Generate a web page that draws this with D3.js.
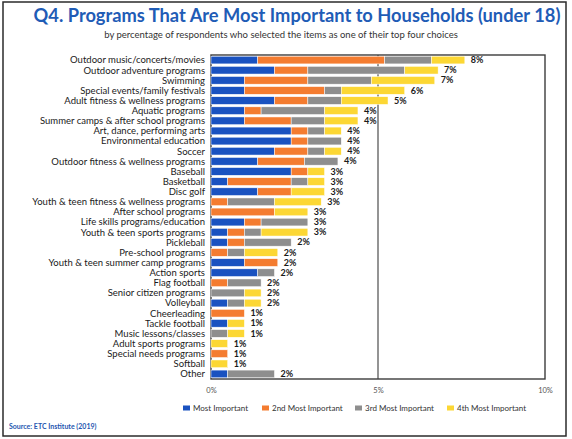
<!DOCTYPE html>
<html>
<head>
<meta charset="utf-8">
<script src="https://cdn.jsdelivr.net/npm/d3@7"></script>
<style>
  html, body { margin: 0; padding: 0; background: #fff; }
  svg { display: block; }
  text { font-family: Lato, "Open Sans", sans-serif; }
</style>
</head>
<body>
<svg id="chart" width="572" height="439"></svg>
<script>
// Programs ranked by share of households naming them in their top four
const categories = [
  "Outdoor music/concerts/movies",
  "Outdoor adventure programs",
  "Swimming",
  "Special events/family festivals",
  "Adult fitness & wellness programs",
  "Aquatic programs",
  "Summer camps & after school programs",
  "Art, dance, performing arts",
  "Environmental education",
  "Soccer",
  "Outdoor fitness & wellness programs",
  "Baseball",
  "Basketball",
  "Disc golf",
  "Youth & teen fitness & wellness programs",
  "After school programs",
  "Life skills programs/education",
  "Youth & teen sports programs",
  "Pickleball",
  "Pre-school programs",
  "Youth & teen summer camp programs",
  "Action sports",
  "Flag football",
  "Senior citizen programs",
  "Volleyball",
  "Cheerleading",
  "Tackle football",
  "Music lessons/classes",
  "Adult sports programs",
  "Special needs programs",
  "Softball",
  "Other"
];

// Percent of respondents per rank (values in %)
const mostImportant   = [1.4, 1.9, 1.0, 1.0, 1.9, 1.0, 1.0, 2.4, 2.4, 1.9, 1.4, 2.4, 0.5, 1.4, 0,   0,   1.0, 0.5, 0.5, 0,   1.0, 1.4, 0,   0,   0.5, 0,   0.5, 0,   0,   0,   0,   0.5];
const secondMost      = [3.8, 1.0, 1.9, 2.4, 1.0, 0.5, 1.4, 0.5, 0.5, 1.0, 1.4, 0.5, 1.9, 1.0, 0.5, 1.9, 0.5, 0.5, 0.5, 0.5, 1.0, 0,   0.5, 0,   0,   1.0, 0,   0,   0,   0.5, 0,   0];
const thirdMost       = [1.4, 2.9, 1.9, 0.5, 1.0, 1.9, 1.0, 0.5, 1.0, 0.5, 1.0, 0,   0.5, 0,   1.4, 0,   1.4, 0.5, 1.4, 0.5, 0,   0.5, 1.0, 1.0, 0.5, 0,   0,   0.5, 0,   0,   0,   1.4];
const fourthMost      = [1.0, 1.0, 1.9, 1.9, 1.4, 1.0, 1.0, 0.5, 0,   0.5, 0,   0.5, 0.5, 1.0, 1.4, 1.0, 0,   1.4, 0,   1.0, 0,   0,   0,   0.5, 0.5, 0,   0.5, 0.5, 0.5, 0,   0.5, 0];

const seriesNames = ["Most Important", "2nd Most Important", "3rd Most Important", "4th Most Important"];
const seriesColors = ["#1a52c0", "#f47c30", "#8e8e8e", "#fcd734"];
const tickValues = [0, 5, 10];
const tickLabels = ["0%", "5%", "10%"];

const keys = ["most", "second", "third", "fourth"];
const rows = categories.map((c, i) => ({
  category: c,
  most: mostImportant[i],
  second: secondMost[i],
  third: thirdMost[i],
  fourth: fourthMost[i]
}));

const svg = d3.select("#chart");

// Outer frame around the whole figure
svg.append("rect")
  .attr("x", 3).attr("y", 2).attr("width", 563).attr("height", 434)
  .attr("fill", "none").attr("stroke", "#2b2b2b").attr("stroke-width", 1.5);

function fitWidth(sel, target) {
  const w = sel.node().getComputedTextLength();
  const fs = parseFloat(sel.attr("font-size"));
  sel.attr("font-size", (fs * target / w).toFixed(2));
}

// Title + subtitle
const title = svg.append("text")
  .attr("x", 297).attr("y", 22)
  .attr("text-anchor", "middle")
  .attr("fill", "#1f5cb6")
  .attr("font-weight", 700)
  .attr("font-size", 16)
  .text("Q4. Programs That Are Most Important to Households (under 18)");
fitWidth(title, 527);

const subtitle = svg.append("text")
  .attr("x", 281).attr("y", 38)
  .attr("text-anchor", "middle")
  .attr("fill", "#333")
  .attr("font-size", 7.5)
  .text("by percentage of respondents who selected the items as one of their top four choices");
fitWidth(subtitle, 354);

// Plot area
const plot = { left: 211, right: 545, top: 55, bottom: 379 };

const x = d3.scaleLinear().domain([0, 10]).range([plot.left, plot.right]);
const y = d3.scaleBand().domain(categories).range([plot.top, plot.bottom]).paddingInner(0.24).paddingOuter(0.12);

const stacked = d3.stack().keys(keys)(rows);

// Plot border
svg.append("rect")
  .attr("x", plot.left).attr("y", plot.top)
  .attr("width", plot.right - plot.left).attr("height", plot.bottom - plot.top)
  .attr("fill", "none").attr("stroke", "#3c3c3c").attr("stroke-width", 1.4);

// Gridline at 5%
svg.append("line")
  .attr("x1", x(5)).attr("x2", x(5))
  .attr("y1", plot.top).attr("y2", plot.bottom)
  .attr("stroke", "#3c3c3c").attr("stroke-width", 1.1);

// Stacked bars
svg.append("g").selectAll("g")
  .data(stacked)
  .join("g")
  .attr("fill", (d, i) => seriesColors[i])
  .selectAll("rect")
  .data(d => d.filter(s => s[1] - s[0] > 0))
  .join("rect")
  .attr("x", d => x(d[0]))
  .attr("y", d => y(d.data.category))
  .attr("width", d => x(d[1]) - x(d[0]))
  .attr("height", y.bandwidth())
  .attr("stroke", "#fff")
  .attr("stroke-width", 0.5);

// Category labels
svg.append("g").selectAll("text")
  .data(categories)
  .join("text")
  .attr("x", 205)
  .attr("y", d => y(d) + y.bandwidth() / 2)
  .attr("dy", "0.35em")
  .attr("text-anchor", "end")
  .attr("fill", "#1a1a1a")
  .attr("font-size", 9.5)
  .text(d => d);

// Total labels
svg.append("g").selectAll("text")
  .data(rows)
  .join("text")
  .attr("x", d => x(d3.sum(keys, k => d[k])) + 6)
  .attr("y", d => y(d.category) + y.bandwidth() / 2)
  .attr("dy", "0.35em")
  .attr("fill", "#1a1a1a")
  .attr("font-weight", 700)
  .attr("font-size", 9)
  .text(d => Math.round(Math.round(d3.sum(keys, k => d[k]) * 10) / 10) + "%");

// X axis
const axis = d3.axisBottom(x)
  .tickValues(tickValues)
  .tickFormat((d, i) => tickLabels[i])
  .tickSize(0)
  .tickPadding(0);
const gAxis = svg.append("g")
  .attr("transform", `translate(0,${plot.bottom + 9})`)
  .call(axis);
gAxis.select(".domain").remove();
gAxis.selectAll("text")
  .attr("fill", "#555")
  .attr("font-size", 7.5)
  .attr("font-family", "Lato, 'Open Sans', sans-serif");

// Legend
const legendX = [183, 262, 355, 447];
const legend = svg.append("g").selectAll("g")
  .data(seriesNames)
  .join("g")
  .attr("transform", (d, i) => `translate(${legendX[i]},408)`);
legend.append("rect")
  .attr("x", 0).attr("y", -2.5)
  .attr("width", 7).attr("height", 5)
  .attr("fill", (d, i) => seriesColors[i]);
legend.append("text")
  .attr("x", 10).attr("y", 0)
  .attr("dy", "0.35em")
  .attr("fill", "#333")
  .attr("font-size", 8)
  .text(d => d);

// Source note
svg.append("text")
  .attr("x", 9).attr("y", 429)
  .attr("fill", "#2556b0")
  .attr("font-weight", 700)
  .attr("font-size", 7)
  .text("Source:  ETC Institute (2019)");
</script>
</body>
</html>
